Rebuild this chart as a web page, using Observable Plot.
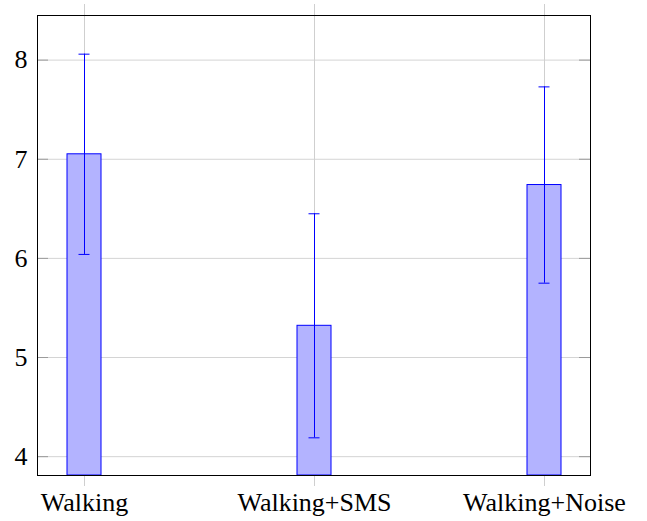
<!DOCTYPE html>
<html>
<head>
<meta charset="utf-8">
<script src="https://cdn.jsdelivr.net/npm/d3@7"></script>
<script src="https://cdn.jsdelivr.net/npm/@observablehq/plot@0.6"></script>
<style>
  body { margin: 0; background: white; }
  svg { overflow: visible; }
</style>
</head>
<body>
<div id="chart"></div>
<script>
const categories = ["Walking", "Walking+SMS", "Walking+Noise"];
const means = [7.05, 5.32, 6.74];
const errors = [1.01, 1.13, 0.99];
const yTicks = [4, 5, 6, 7, 8];
const yDomain = [3.81, 8.45];

const data = categories.map((c, i) => ({cat: c, mean: means[i], lo: means[i] - errors[i], hi: means[i] + errors[i]}));

const chart = Plot.plot({
  width: 647,
  height: 521,
  marginLeft: 37,
  marginRight: 57,
  marginTop: 15,
  marginBottom: 46,
  style: {fontFamily: "'Liberation Serif', serif", fontSize: "26px", color: "black", background: "white"},
  x: {type: "band", domain: categories, paddingInner: 0.8525, paddingOuter: 0.1258, label: null},
  y: {domain: yDomain, label: null},
  marks: [
    Plot.ruleY(yTicks, {stroke: "#d4d4d4", strokeWidth: 1}),
    Plot.ruleX(categories, {x: d => d, stroke: "#cfcfcf", strokeWidth: 1, insetTop: -11, insetBottom: -11}),
    Plot.ruleY(yTicks, {stroke: "#9a9a9a", strokeWidth: 1, insetRight: 542}),
    Plot.ruleY(yTicks, {stroke: "#9a9a9a", strokeWidth: 1, insetLeft: 542}),
    Plot.barY(data, {x: "cat", y1: yDomain[0], y2: "mean", fill: "#b3b3ff", stroke: "#0000ff", strokeWidth: 1}),
    Plot.ruleX(data, {x: "cat", y1: "lo", y2: "hi", stroke: "#0000ff", strokeWidth: 1}),
    Plot.tickY(data, {x: "cat", y: "hi", stroke: "#0000ff", strokeWidth: 1, insetLeft: 11.5, insetRight: 11.5}),
    Plot.tickY(data, {x: "cat", y: "lo", stroke: "#0000ff", strokeWidth: 1, insetLeft: 11.5, insetRight: 11.5}),
    Plot.frame({stroke: "black", strokeWidth: 1}),
    Plot.axisY({ticks: yTicks, tickFormat: d3.format("d"), tickSize: 0, tickPadding: 10, fontSize: 26, label: null}),
    Plot.axisX({tickSize: 0, tickPadding: 17, fontSize: 26, label: null})
  ]
});
document.getElementById("chart").appendChild(chart);
</script>
</body>
</html>
